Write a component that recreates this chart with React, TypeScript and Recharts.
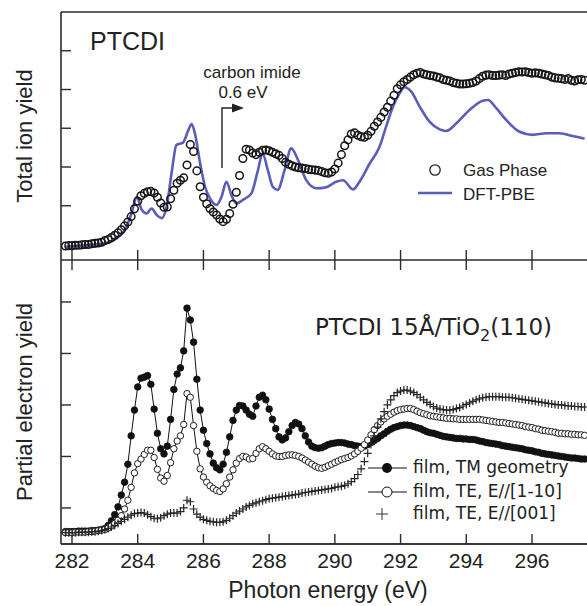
import React from "react";
import { ComposedChart, Line, XAxis, YAxis, Legend, ReferenceLine } from "recharts";

// spectra are sampled every 0.1 eV starting at 281.8 eV
const gridStart = 281.8;
const gridStep = 0.1;

// top panel: gas phase total ion yield (open circles)
const gasPhase = [
  0.36, 0.37,
  0.37, 0.38, 0.38, 0.39, 0.4, 0.4, 0.42, 0.43, 0.44, 0.46, // 282
  0.5, 0.53, 0.58, 0.64, 0.7, 0.78, 0.88, 0.98, 1.12, 1.32, // 283
  1.52, 1.66, 1.72, 1.76, 1.77, 1.73, 1.62, 1.47, 1.36, 1.37, // 284
  1.58, 1.8, 1.98, 2.06, 2.12, 2.45, 2.98, 2.8, 2.3, 1.89, // 285
  1.62, 1.45, 1.33, 1.24, 1.16, 1.06, 0.99, 1.05, 1.2, 1.44, // 286
  1.75, 2.18, 2.62, 2.86, 2.84, 2.76, 2.72, 2.78, 2.83, 2.84, // 287
  2.82, 2.78, 2.74, 2.7, 2.62, 2.52, 2.47, 2.43, 2.4, 2.38, // 288
  2.37, 2.36, 2.34, 2.33, 2.32, 2.31, 2.28, 2.25, 2.24, 2.27, // 289
  2.35, 2.5, 2.72, 2.95, 3.1, 3.25, 3.28, 3.22, 3.18, 3.17, // 290
  3.22, 3.32, 3.45, 3.56, 3.68, 3.82, 3.94, 4.1, 4.25, 4.42, // 291
  4.52, 4.6, 4.66, 4.72, 4.78, 4.82, 4.84, 4.8, 4.78, 4.76, // 292
  4.75, 4.72, 4.7, 4.66, 4.64, 4.62, 4.58, 4.56, 4.54, 4.54, // 293
  4.55, 4.56, 4.58, 4.62, 4.68, 4.74, 4.77, 4.78, 4.76, 4.76, // 294
  4.77, 4.78, 4.76, 4.8, 4.82, 4.84, 4.86, 4.85, 4.86, 4.84, // 295
  4.82, 4.83, 4.82, 4.8, 4.78, 4.76, 4.72, 4.7, 4.69, 4.68, // 296
  4.66, 4.68, 4.64, 4.62, 4.65, 4.66, 4.64, // 297
];

// top panel: DFT-PBE calculation
const dftEnergy = [
  281.8, 282.6, 283.0, 283.36, 283.66, 283.81, 283.97, 284.12, 284.27, 284.42,
  284.58, 284.73, 284.88, 285.03, 285.18, 285.38, 285.54, 285.64, 285.74, 285.9,
  286.05, 286.2, 286.4, 286.55, 286.7, 286.85, 287.0, 287.2, 287.46, 287.66,
  287.8, 287.96, 288.11, 288.26, 288.47, 288.67, 288.88, 289.13, 289.44, 289.74,
  290.04, 290.25, 290.55, 290.75, 291.06, 291.36, 291.56, 291.77, 291.97, 292.12,
  292.33, 292.58, 292.88, 293.19, 293.39, 293.7, 294.1, 294.5, 294.66, 294.92,
  295.22, 295.62, 296.02, 296.43, 296.84, 297.24, 297.6,
];
const dftYield = [
  0.34, 0.39, 0.43, 0.56, 0.86, 1.2, 1.63, 1.3, 1.2, 1.33,
  1.16, 1.08, 1.38, 2.24, 2.97, 3.03, 3.35, 3.51, 3.27, 2.49,
  1.89, 1.59, 1.42, 1.63, 2.02, 1.68, 1.46, 1.55, 1.72, 2.32,
  2.75, 2.32, 1.89, 1.81, 2.32, 2.88, 2.58, 2.06, 1.85, 1.88,
  2.02, 2.06, 1.82, 2.02, 2.49, 2.92, 3.44, 3.96, 4.3, 4.46,
  4.34, 3.96, 3.57, 3.37, 3.33, 3.53, 3.87, 4.11, 4.13, 3.91,
  3.61, 3.31, 3.23, 3.27, 3.27, 3.2, 3.13,
];

// bottom panel: film, TM geometry (filled circles)
const filmTM = [
  0.24, 0.24,
  0.24, 0.24, 0.25, 0.25, 0.25, 0.25, 0.26, 0.26, 0.27, 0.28, // 282
  0.3, 0.36, 0.45, 0.57, 0.72, 0.95, 1.2, 1.55, 2.1, 2.6, // 283
  3.05, 3.22, 3.24, 3.27, 3.1, 2.62, 2.15, 1.85, 1.75, 1.9, // 284
  2.42, 3.0, 3.3, 3.42, 3.75, 4.58, 4.35, 3.92, 3.2, 2.6, // 285
  2.21, 1.95, 1.75, 1.57, 1.48, 1.44, 1.55, 1.78, 2.08, 2.4, // 286
  2.6, 2.69, 2.68, 2.6, 2.52, 2.48, 2.68, 2.85, 2.89, 2.8, // 287
  2.62, 2.42, 2.24, 2.08, 2.02, 2.06, 2.18, 2.3, 2.36, 2.33, // 288
  2.24, 2.1, 1.98, 1.9, 1.87, 1.86, 1.87, 1.9, 1.93, 1.95, // 289
  1.96, 1.97, 1.97, 1.96, 1.94, 1.93, 1.91, 1.9, 1.89, 1.9, // 290
  1.93, 1.97, 2.01, 2.05, 2.1, 2.14, 2.19, 2.23, 2.26, 2.28, // 291
  2.3, 2.31, 2.31, 2.3, 2.28, 2.26, 2.24, 2.21, 2.18, 2.16, // 292
  2.15, 2.13, 2.11, 2.09, 2.08, 2.07, 2.06, 2.05, 2.05, 2.04, // 293
  2.04, 2.03, 2.03, 2.02, 2.0, 1.99, 1.97, 1.96, 1.95, 1.94, // 294
  1.93, 1.91, 1.9, 1.89, 1.88, 1.87, 1.86, 1.85, 1.83, 1.82, // 295
  1.81, 1.79, 1.78, 1.76, 1.75, 1.74, 1.73, 1.72, 1.71, 1.7, // 296
  1.69, 1.68, 1.67, 1.67, 1.66, 1.65, 1.65, // 297
];

// bottom panel: film, TE, E//[1-10] (open circles)
const filmTE110 = [
  0.22, 0.22,
  0.22, 0.23, 0.23, 0.23, 0.23, 0.24, 0.24, 0.25, 0.26, 0.27, // 282
  0.28, 0.31, 0.35, 0.4, 0.46, 0.55, 0.68, 0.85, 1.1, 1.38, // 283
  1.56, 1.65, 1.74, 1.82, 1.82, 1.68, 1.45, 1.28, 1.22, 1.33, // 284
  1.58, 1.85, 2.0, 2.1, 2.32, 2.92, 2.85, 2.3, 1.8, 1.46, // 285
  1.3, 1.2, 1.13, 1.08, 1.04, 1.02, 1.07, 1.17, 1.3, 1.44, // 286
  1.57, 1.66, 1.7, 1.69, 1.65, 1.66, 1.76, 1.85, 1.89, 1.85, // 287
  1.8, 1.75, 1.71, 1.7, 1.7, 1.72, 1.73, 1.73, 1.72, 1.7, // 288
  1.67, 1.63, 1.59, 1.55, 1.51, 1.48, 1.47, 1.49, 1.52, 1.55, // 289
  1.58, 1.61, 1.64, 1.66, 1.68, 1.71, 1.75, 1.8, 1.86, 1.93, // 290
  2.02, 2.12, 2.22, 2.3, 2.37, 2.43, 2.48, 2.52, 2.56, 2.59, // 291
  2.61, 2.62, 2.63, 2.63, 2.61, 2.58, 2.55, 2.53, 2.51, 2.49, // 292
  2.48, 2.47, 2.46, 2.45, 2.44, 2.44, 2.43, 2.43, 2.42, 2.42, // 293
  2.42, 2.42, 2.42, 2.42, 2.42, 2.41, 2.4, 2.39, 2.38, 2.37, // 294
  2.36, 2.36, 2.35, 2.34, 2.33, 2.32, 2.31, 2.3, 2.28, 2.27, // 295
  2.26, 2.24, 2.23, 2.21, 2.2, 2.19, 2.18, 2.17, 2.15, 2.15, // 296
  2.14, 2.14, 2.13, 2.13, 2.12, 2.12, 2.11, // 297
];

// bottom panel: film, TE, E//[001] (crosses)
const filmTE001 = [
  0.22, 0.22,
  0.22, 0.22, 0.23, 0.23, 0.23, 0.23, 0.24, 0.24, 0.25, 0.26, // 282
  0.28, 0.3, 0.33, 0.36, 0.4, 0.44, 0.48, 0.52, 0.56, 0.59, // 283
  0.6, 0.61, 0.6, 0.57, 0.53, 0.5, 0.49, 0.51, 0.55, 0.58, // 284
  0.6, 0.6, 0.6, 0.63, 0.7, 0.85, 0.82, 0.68, 0.58, 0.52, // 285
  0.48, 0.46, 0.44, 0.43, 0.42, 0.42, 0.43, 0.46, 0.5, 0.55, // 286
  0.6, 0.64, 0.68, 0.72, 0.75, 0.78, 0.8, 0.82, 0.84, 0.86, // 287
  0.88, 0.89, 0.9, 0.91, 0.92, 0.93, 0.94, 0.95, 0.96, 0.97, // 288
  0.99, 1.0, 1.01, 1.02, 1.03, 1.04, 1.05, 1.06, 1.07, 1.08, // 289
  1.1, 1.11, 1.12, 1.14, 1.17, 1.21, 1.27, 1.35, 1.46, 1.6, // 290
  1.76, 1.93, 2.1, 2.27, 2.43, 2.57, 2.7, 2.8, 2.88, 2.94, // 291
  2.97, 2.99, 2.99, 2.97, 2.94, 2.9, 2.85, 2.8, 2.75, 2.71, // 292
  2.67, 2.64, 2.62, 2.61, 2.6, 2.6, 2.61, 2.63, 2.65, 2.68, // 293
  2.71, 2.74, 2.77, 2.8, 2.82, 2.84, 2.85, 2.86, 2.86, 2.86, // 294
  2.86, 2.85, 2.85, 2.85, 2.84, 2.83, 2.82, 2.81, 2.8, 2.79, // 295
  2.78, 2.77, 2.76, 2.75, 2.74, 2.73, 2.72, 2.71, 2.7, 2.7, // 296
  2.69, 2.68, 2.68, 2.67, 2.67, 2.66, 2.66, // 297
];

const energyTicks = [282, 284, 286, 288, 290, 292, 294, 296];
const topYTicks = [1.4, 2.4, 3.4, 4.4, 5.4];
const bottomYTicks = [0.7, 1.7, 2.7, 3.7, 4.7];

const xDomain: [number, number] = [281.665, 298.709];
const topDomain: [number, number] = [0, 6.4];
const bottomDomain: [number, number] = [0, 5.515];
const chartWidth = 621;

// tick marks are ~10px long; expressed in axis units of each panel
const tickLenX = 10 / 32.86;
const tickLenTop = 10 / 38.75;
const tickLenBottom = 10 / 51.5;

const axisColor = "#2b2b2b";
const dftColor = "#5a5db9";
const sansFont = "'Liberation Sans', Arial, Helvetica, sans-serif";
const legendFont = "'DejaVu Sans', Verdana, sans-serif";

const onGrid = (vals: number[]) =>
  vals.map((v, i) => ({ e: Math.round((gridStart + i * gridStep) * 100) / 100, v }));

const gasData = onGrid(gasPhase);
const dftData = dftEnergy.map((e, i) => ({ e, v: dftYield[i] }));
const tmData = onGrid(filmTM);
const te110Data = onGrid(filmTE110);
const te001Data = onGrid(filmTE001);

const EnergyLabel = (props: any) => (
  <text x={props.x} y={props.y + 24} textAnchor="middle" fontSize={21} fontFamily={sansFont} fill="#222">
    {props.payload.value}
  </text>
);

const renderPlus = (props: any) => {
  const { cx, cy, index } = props;
  if (cx == null || cy == null) return <g key={index} />;
  return (
    <path
      key={index}
      d={`M${cx - 4},${cy}H${cx + 4}M${cx},${cy - 4}V${cy + 4}`}
      stroke="#262626"
      strokeWidth={1.2}
    />
  );
};

const frameLine = { stroke: axisColor, strokeWidth: 1.6 };
const tickLine = { stroke: axisColor, strokeWidth: 1.4 };

const TopLegend = () => (
  <svg width={170} height={52}>
    <circle cx={25} cy={15} r={5.2} fill="#fff" stroke="#222" strokeWidth={1.3} />
    <text x={53} y={21} fontSize={17} fontFamily={sansFont} fill="#222">Gas Phase</text>
    <line x1={8} x2={42} y1={38} y2={38} stroke={dftColor} strokeWidth={2.6} />
    <text x={53} y={45} fontSize={17} fontFamily={sansFont} fill="#222">DFT-PBE</text>
  </svg>
);

const BottomLegend = () => (
  <svg width={227} height={72}>
    <line x1={8} x2={47} y1={13} y2={13} stroke="#111" strokeWidth={1} />
    <circle cx={27} cy={13} r={5} fill="#111" />
    <text x={53} y={18} fontSize={17} fontFamily={legendFont} fill="#222">film, TM geometry</text>
    <line x1={8} x2={47} y1={37} y2={37} stroke="#111" strokeWidth={1} />
    <circle cx={27} cy={37} r={5} fill="#fff" stroke="#111" strokeWidth={1} />
    <text x={53} y={42} fontSize={17} fontFamily={legendFont} fill="#222">film, TE, E//[1-10]</text>
    <path d="M16,59H28M22,53V65" stroke="#333" strokeWidth={1} />
    <text x={53} y={64} fontSize={17} fontFamily={legendFont} fill="#222">film, TE, E//[001]</text>
  </svg>
);

export default function App() {
  return (
    <div style={{ position: "absolute", left: 0, top: 0, width: 587, height: 606, overflow: "hidden", background: "#fff" }}>
      <div style={{ position: "absolute", left: 0, top: 0 }}>
        <ComposedChart width={chartWidth} height={263} margin={{ top: 12, right: 0, bottom: 3, left: 61 }}>
          <XAxis
            type="number"
            dataKey="e"
            domain={xDomain}
            allowDataOverflow
            ticks={energyTicks}
            height={0}
            tick={false}
            tickLine={false}
            axisLine={frameLine}
          />
          <YAxis
            type="number"
            domain={topDomain}
            allowDataOverflow
            ticks={topYTicks}
            width={0}
            tick={false}
            tickLine={false}
            axisLine={frameLine}
          />
          {/* panel frame */}
          <ReferenceLine x={xDomain[0]} {...frameLine} />
          <ReferenceLine y={topDomain[1]} {...frameLine} />
          <ReferenceLine y={topDomain[0]} {...frameLine} />
          {energyTicks.map((t) => (
            <ReferenceLine key={`xt${t}`} segment={[{ x: t, y: 0 }, { x: t, y: tickLenTop }]} {...tickLine} />
          ))}
          {topYTicks.map((t) => (
            <ReferenceLine key={`yt${t}`} segment={[{ x: xDomain[0], y: t }, { x: xDomain[0] + tickLenX, y: t }]} {...tickLine} />
          ))}
          <Line
            data={gasData}
            dataKey="v"
            stroke="none"
            dot={{ r: 3.8, fill: "none", stroke: "#161616", strokeWidth: 1.5 }}
            activeDot={false}
            isAnimationActive={false}
          />
          <Line
            data={dftData}
            dataKey="v"
            type="monotone"
            stroke={dftColor}
            strokeWidth={2.6}
            dot={false}
            activeDot={false}
            isAnimationActive={false}
          />
          <Legend
            layout="vertical"
            align="center"
            verticalAlign="middle"
            width={170}
            height={52}
            wrapperStyle={{ left: 410, top: 155, width: 170, height: 52 }}
            content={() => <TopLegend />}
          />
        </ComposedChart>
      </div>

      <div style={{ position: "absolute", left: 0, top: 260 }}>
        <ComposedChart width={chartWidth} height={346} margin={{ top: 0, right: 0, bottom: 0, left: 61 }}>
          <XAxis
            type="number"
            dataKey="e"
            domain={xDomain}
            allowDataOverflow
            ticks={energyTicks}
            height={62}
            tickSize={0}
            tickMargin={0}
            tick={EnergyLabel}
            tickLine={false}
            axisLine={frameLine}
          />
          <YAxis
            type="number"
            domain={bottomDomain}
            allowDataOverflow
            ticks={bottomYTicks}
            width={0}
            tick={false}
            tickLine={false}
            axisLine={frameLine}
          />
          {/* panel frame */}
          <ReferenceLine x={xDomain[0]} {...frameLine} />
          <ReferenceLine y={bottomDomain[0]} {...frameLine} />
          {energyTicks.map((t) => (
            <ReferenceLine key={`xb${t}`} segment={[{ x: t, y: 0 }, { x: t, y: tickLenBottom }]} {...tickLine} />
          ))}
          {energyTicks.map((t) => (
            <ReferenceLine
              key={`xtp${t}`}
              segment={[{ x: t, y: bottomDomain[1] }, { x: t, y: bottomDomain[1] - tickLenBottom }]}
              {...tickLine}
            />
          ))}
          {bottomYTicks.map((t) => (
            <ReferenceLine key={`yb${t}`} segment={[{ x: xDomain[0], y: t }, { x: xDomain[0] + tickLenX, y: t }]} {...tickLine} />
          ))}
          <Line
            data={tmData}
            dataKey="v"
            stroke="#111"
            strokeWidth={1}
            dot={{ r: 3.3, fill: "#111", stroke: "#111", strokeWidth: 0.8 }}
            activeDot={false}
            isAnimationActive={false}
          />
          <Line
            data={te110Data}
            dataKey="v"
            stroke="#111"
            strokeWidth={1}
            dot={{ r: 3.2, fill: "#fff", stroke: "#1e1e1e", strokeWidth: 1 }}
            activeDot={false}
            isAnimationActive={false}
          />
          <Line
            data={te001Data}
            dataKey="v"
            stroke="none"
            dot={renderPlus}
            activeDot={false}
            isAnimationActive={false}
          />
          <Legend
            layout="vertical"
            align="center"
            verticalAlign="middle"
            width={227}
            height={72}
            wrapperStyle={{ left: 360, top: 195, width: 227, height: 72 }}
            content={() => <BottomLegend />}
          />
        </ComposedChart>
      </div>

      <svg width={587} height={606} style={{ position: "absolute", left: 0, top: 0, pointerEvents: "none" }}>
        <text x={90} y={50} fontSize={25} fontFamily={sansFont} fill="#222">PTCDI</text>
        <text x={252} y={78} textAnchor="middle" fontSize={17} fontFamily={sansFont} fill="#222">carbon imide</text>
        <text x={243} y={98} textAnchor="middle" fontSize={17} fontFamily={sansFont} fill="#222">0.6 eV</text>
        <path d="M222,168V108H234" fill="none" stroke="#222" strokeWidth={1.4} />
        <path d="M232,103.5L244,108L232,112.5Z" fill="#222" />
        <text transform="translate(32,136) rotate(-90)" textAnchor="middle" fontSize={22} fontFamily={sansFont} fill="#222">
          Total ion yield
        </text>
        <text transform="translate(32,402) rotate(-90)" textAnchor="middle" fontSize={22} fontFamily={sansFont} fill="#222">
          Partial electron yield
        </text>
        <text x={315} y={335} fontSize={23} fontFamily={legendFont} fill="#222">
          PTCDI 15Å/TiO<tspan fontSize={16} dy={6}>2</tspan>
          <tspan dy={-6}>(110)</tspan>
        </text>
        <text x={328} y={598} textAnchor="middle" fontSize={23} fontFamily={sansFont} fill="#222">
          Photon energy (eV)
        </text>
      </svg>
    </div>
  );
}
